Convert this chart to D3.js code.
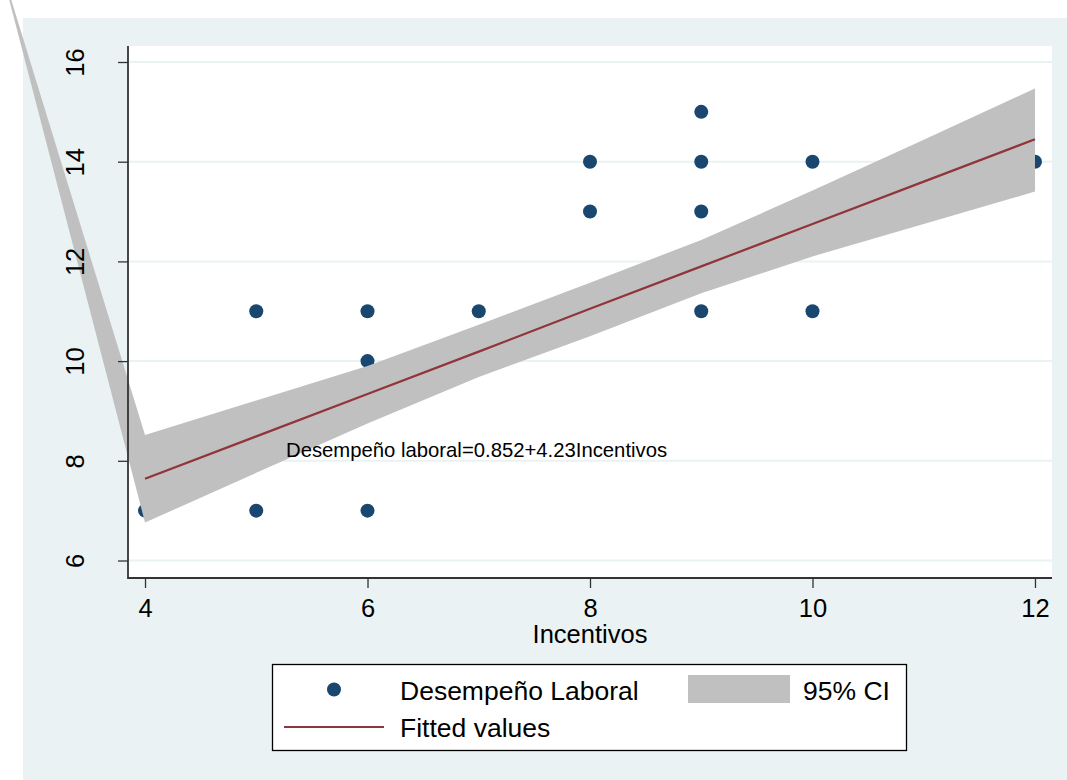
<!DOCTYPE html>
<html>
<head>
<meta charset="utf-8">
<script src="https://cdn.jsdelivr.net/npm/d3@7"></script>
<style>
	body { margin: 0; background: #fff; }
	svg { display: block; font-family: "Liberation Sans", Arial, sans-serif; }
</style>
</head>
<body>
<div id="chart"></div>
<script>
// observations
var incentivos = [4, 5, 5, 6, 6, 6, 7, 8, 8, 9, 9, 9, 9, 10, 10, 12];
var desempeno = [7, 11, 7, 11, 10, 7, 11, 14, 13, 15, 14, 13, 11, 14, 11, 14];

// fitted line and 95% CI band, read at each integer of Incentivos
var fitX = [4, 5, 6, 7, 8, 9, 10, 11, 12];
var fitY = [7.64, 8.49, 9.34, 10.19, 11.05, 11.90, 12.75, 13.60, 14.45];
var ciUpper = [8.52, 9.21, 9.90, 10.73, 11.57, 12.43, 13.42, 14.44, 15.47];
var ciLower = [6.76, 7.76, 8.75, 9.68, 10.50, 11.36, 12.10, 12.75, 13.40];
// stray vertex the band polygon wraps to (off the plot, top left)
var ciStray = [2.68, 18.1];

var xTicks = [4, 6, 8, 10, 12];
var yTicks = [6, 8, 10, 12, 14, 16];
var equationText = "Desempeño laboral=0.852+4.23Incentivos";
var legendLabels = ["Desempeño Laboral", "95% CI", "Fitted values"];

var colors = {
	bg: "#eaf2f3",
	marker: "#1a476f",
	band: "#c0c0c0",
	fit: "#90353b",
	axis: "#333"
};

var W = 1067, H = 780,
	plot = { left: 128, right: 1052, top: 46, bottom: 578 };

var svg = d3.select("#chart").append("svg")
	.attr("width", W)
	.attr("height", H);

// graph region
svg.append("rect")
	.attr("x", 23).attr("y", 18)
	.attr("width", W - 23).attr("height", H - 18)
	.attr("fill", colors.bg);

svg.append("rect")
	.attr("x", plot.left).attr("y", plot.top)
	.attr("width", plot.right - plot.left).attr("height", plot.bottom - plot.top)
	.attr("fill", "#fff");

var xScale = d3.scaleLinear().domain([3.847, 12.153]).range([plot.left, plot.right]),
	yScale = d3.scaleLinear().domain([5.649, 16.321]).range([plot.bottom, plot.top]);

// grid lines
svg.append("g")
	.selectAll("line")
	.data(yTicks)
	.enter().append("line")
	.attr("x1", plot.left).attr("x2", plot.right)
	.attr("y1", function(d) { return yScale(d); })
	.attr("y2", function(d) { return yScale(d); })
	.attr("stroke", colors.bg)
	.attr("stroke-width", 2);

// scatter goes under the band, like stata draws it
svg.append("g")
	.selectAll("circle")
	.data(incentivos)
	.enter().append("circle")
	.attr("cx", function(d) { return xScale(d); })
	.attr("cy", function(d, i) { return yScale(desempeno[i]); })
	.attr("r", 7)
	.attr("fill", colors.marker);

// CI band
var bandPts = [];
fitX.forEach(function(x, i) { bandPts.push([xScale(x), yScale(ciUpper[i])]); });
for (var i = fitX.length - 1; i >= 0; i--) bandPts.push([xScale(fitX[i]), yScale(ciLower[i])]);
bandPts.push([xScale(ciStray[0]), yScale(ciStray[1])]);

svg.append("path")
	.attr("d", d3.line()(bandPts) + "Z")
	.attr("fill", colors.band);

// fitted line
svg.append("path")
	.datum(fitX)
	.attr("d", d3.line()
		.x(function(d) { return xScale(d); })
		.y(function(d, i) { return yScale(fitY[i]); }))
	.attr("fill", "none")
	.attr("stroke", colors.fit)
	.attr("stroke-width", 2.2);

// axes
var yAxis = svg.append("g")
	.attr("transform", "translate(" + plot.left + ",0)")
	.call(d3.axisLeft(yScale).tickValues(yTicks).tickSize(10).tickFormat(d3.format("d")));
yAxis.select(".domain").remove();
yAxis.selectAll("line").attr("stroke", colors.axis).attr("stroke-width", 1.3);
yAxis.selectAll("text").remove();
yAxis.selectAll(".tick").append("text")
	.attr("transform", "translate(-44,0) rotate(-90)")
	.attr("text-anchor", "middle")
	.attr("fill", "#000")
	.attr("font-size", 25.5)
	.text(function(d) { return d; });

var xAxis = svg.append("g")
	.attr("transform", "translate(0," + plot.bottom + ")")
	.call(d3.axisBottom(xScale).tickValues(xTicks).tickSize(10).tickFormat(d3.format("d")));
xAxis.select(".domain").remove();
xAxis.selectAll("line").attr("stroke", colors.axis).attr("stroke-width", 1.3);
xAxis.selectAll("text")
	.attr("y", 39).attr("dy", 0)
	.attr("fill", "#000")
	.attr("font-size", 25.5);

svg.append("path")
	.attr("d", "M" + plot.left + "," + plot.top + "V" + plot.bottom + "H" + plot.right)
	.attr("fill", "none")
	.attr("stroke", colors.axis)
	.attr("stroke-width", 1.8);

svg.append("text")
	.attr("x", (plot.left + plot.right) / 2)
	.attr("y", 643)
	.attr("text-anchor", "middle")
	.attr("font-size", 25.5)
	.text("Incentivos");

// equation label
svg.append("text")
	.attr("x", 286)
	.attr("y", 457)
	.attr("font-size", 20.3)
	.text(equationText);

// legend
var legend = svg.append("g");
legend.append("rect")
	.attr("x", 272.5).attr("y", 664.5)
	.attr("width", 634).attr("height", 86)
	.attr("fill", "#fff")
	.attr("stroke", "#000")
	.attr("stroke-width", 1.3);
legend.append("circle")
	.attr("cx", 334).attr("cy", 689.5).attr("r", 7)
	.attr("fill", colors.marker);
legend.append("rect")
	.attr("x", 688).attr("y", 675)
	.attr("width", 102).attr("height", 28)
	.attr("fill", colors.band);
legend.append("line")
	.attr("x1", 284).attr("x2", 384)
	.attr("y1", 727).attr("y2", 727)
	.attr("stroke", colors.fit)
	.attr("stroke-width", 2.2);
legend.selectAll("text")
	.data(legendLabels)
	.enter().append("text")
	.attr("x", function(d, i) { return i == 1 ? 803 : 400; })
	.attr("y", function(d, i) { return i == 2 ? 737 : 700; })
	.attr("font-size", 26.5)
	.text(function(d) { return d; });
</script>
</body>
</html>
